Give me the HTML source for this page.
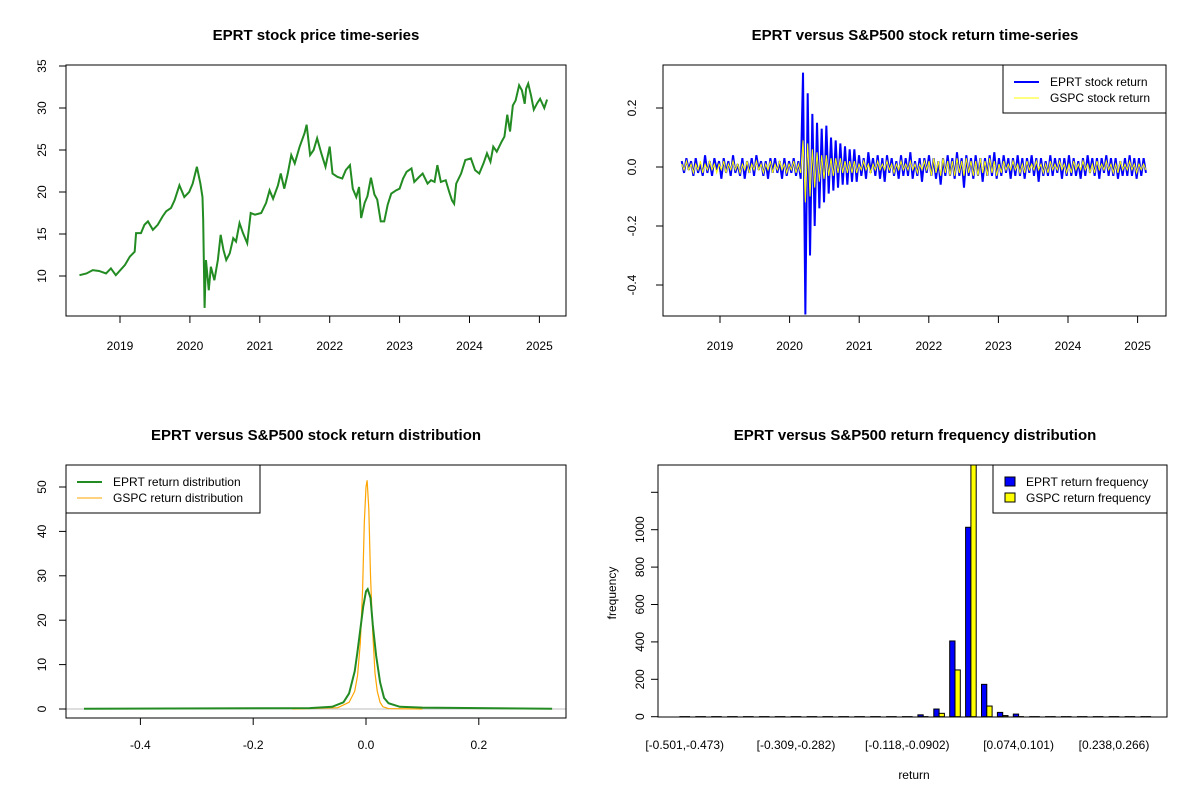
<!DOCTYPE html>
<html><head><meta charset="utf-8"><style>
html,body{margin:0;padding:0;background:#fff;}
svg{display:block;font-family:"Liberation Sans",Arial,sans-serif;}
</style></head>
<body>
<svg id="chart" width="1200" height="800" viewBox="0 0 1200 800" xmlns="http://www.w3.org/2000/svg">
<defs>
<clipPath id="clip1"><rect x="66" y="65" width="500" height="251"/></clipPath>
<clipPath id="clip2"><rect x="663" y="65" width="503" height="251"/></clipPath>
<clipPath id="clip3"><rect x="66" y="465" width="500" height="253"/></clipPath>
<clipPath id="clip4"><rect x="658" y="465" width="509" height="252"/></clipPath>
</defs>
</svg>
<script>
// ---------- Panel 1 data: EPRT price ----------
const priceYears = [2018.42,2018.52,2018.61,2018.70,2018.80,2018.87,2018.94,2019.07,2019.14,2019.21,2019.23,2019.30,2019.35,2019.40,2019.47,2019.54,2019.61,2019.66,2019.73,2019.78,2019.85,2019.92,2019.99,2020.04,2020.10,2020.15,2020.18,2020.19,2020.21,2020.23,2020.27,2020.30,2020.35,2020.40,2020.44,2020.48,2020.52,2020.57,2020.62,2020.66,2020.71,2020.76,2020.82,2020.87,2020.93,2021.02,2021.09,2021.14,2021.19,2021.26,2021.30,2021.35,2021.40,2021.45,2021.50,2021.57,2021.64,2021.67,2021.72,2021.77,2021.82,2021.88,2021.94,2022.00,2022.04,2022.11,2022.18,2022.23,2022.29,2022.33,2022.38,2022.42,2022.45,2022.50,2022.54,2022.59,2022.64,2022.68,2022.73,2022.78,2022.83,2022.88,2022.95,2023.00,2023.05,2023.10,2023.17,2023.21,2023.28,2023.33,2023.40,2023.45,2023.50,2023.54,2023.59,2023.66,2023.71,2023.75,2023.78,2023.81,2023.88,2023.94,2024.02,2024.08,2024.14,2024.20,2024.25,2024.30,2024.34,2024.39,2024.46,2024.50,2024.54,2024.58,2024.62,2024.66,2024.71,2024.75,2024.79,2024.81,2024.84,2024.88,2024.92,2024.97,2025.01,2025.07,2025.11];
const prices = [10.1,10.3,10.7,10.6,10.3,10.9,10.1,11.3,12.3,12.9,15.1,15.1,16.1,16.5,15.5,16.1,17.1,17.7,18.1,19.0,20.8,19.4,20.0,21.0,23.0,21.0,19.4,16.7,6.2,11.9,8.3,11.1,9.5,11.9,14.9,13.1,11.9,12.7,14.5,14.1,16.3,15.1,13.9,17.5,17.3,17.5,18.7,20.2,19.2,20.8,22.2,20.4,22.2,24.4,23.4,25.4,27.0,28.0,24.4,25.0,26.4,24.6,23.0,25.4,22.2,21.8,21.6,22.6,23.2,20.4,19.4,20.6,16.9,18.7,19.5,21.7,19.7,19.1,16.5,16.5,18.5,19.8,20.2,20.4,21.6,22.4,22.8,21.2,21.8,22.2,21.0,21.4,21.2,23.2,21.2,21.4,20.0,19.0,18.6,21.0,22.2,23.8,24.0,22.6,22.2,23.4,24.6,23.6,25.4,24.8,26.0,26.6,29.2,27.2,30.3,30.9,32.7,32.1,30.5,32.3,32.9,31.5,29.8,30.6,31.1,30.0,31.0];
const priceTicks = [10,15,20,25,30,35];
const yearTicks = [2019,2020,2021,2022,2023,2024,2025];

// ---------- Panel 2 data: returns (percent) ----------
const retStart = 2018.45, retEnd = 2025.12;
const eprtRetPct = [2,-2,3,-1,2,-3,3,-2,1,-3,4,-2,2,-3,3,-1,2,-4,3,-2,2,-3,4,-2,1,-3,3,-4,2,-2,3,-3,4,-1,2,-3,2,-4,3,-2,3,-2,2,-4,3,-3,2,-2,3,-3,2,-4,
32,-50,25,-30,18,-20,15,-14,13,-12,14,-9,10,-8,9,-7,8,-6,7,-6,6,-5,6,-5,
4,-3,3,-4,5,-2,3,-3,4,-4,3,-5,4,-2,3,-3,2,-4,4,-3,3,-3,5,-4,2,-3,3,-5,3,-2,4,-3,3,-4,2,-6,3,-3,4,-3,
3,-4,5,-3,3,-7,4,-3,3,-4,4,-3,3,-5,3,-3,4,-3,5,-4,3,-3,4,-2,3,-4,3,-3,4,-3,3,-4,3,-2,4,-3,3,-5,3,-3,
2,-3,4,-3,3,-2,3,-4,3,-3,4,-3,3,-3,2,-4,3,-3,4,-2,3,-3,3,-4,3,-2,4,-3,3,-3,3,-4,2,-3,3,-3,4,-3,3,-4,3,-3,3,-2];
const gspcRetPct = [1,-1,2,-1,1,-2,1,-1,2,-2,1,-1,2,-1,1,-2,1,-1,2,-2,1,-1,2,-1,1,-2,1,-1,2,-2,1,-1,2,-1,1,-2,1,-1,2,-2,1,-1,2,-1,1,-2,1,-1,2,-2,1,-2,
9,-12,8,-10,6,-7,5,-5,4,-4,4,-3,3,-3,3,-2,3,-2,2,-2,2,-2,2,-2,
1,-1,2,-1,1,-2,1,-1,2,-1,1,-1,2,-1,1,-2,1,-1,2,-1,1,-1,2,-1,1,-2,1,-1,2,-1,
2,-3,3,-2,2,-3,3,-2,2,-3,2,-3,3,-2,2,-3,3,-2,2,-3,2,-3,3,-2,2,-3,3,-2,2,-3,
1,-2,2,-1,1,-1,2,-1,1,-2,1,-2,2,-1,1,-1,2,-1,1,-2,1,-2,2,-1,1,-1,2,-1,1,-2,1,-2,2,-1,1,-1,2,-1,1,-2,1,-2,2,-1,1,-1,2,-1,1,-2,1,-2,2,-1,1,-1,2,-1,1,-2,1,-1,1,-1];
const retTicks = [0.2,0.0,-0.2,-0.4];
const retTickLabels = ["0.2","0.0","-0.2","-0.4"];

// ---------- Panel 3 data: densities ----------
const eprtDensX = [-0.5,-0.1,-0.06,-0.04,-0.03,-0.02,-0.015,-0.01,-0.005,0,0.003,0.008,0.012,0.018,0.025,0.032,0.04,0.06,0.1,0.33];
const eprtDensY = [0.05,0.2,0.5,1.5,3.5,8.5,13,18,23,26.5,27,25,19,12,6,2.5,1.3,0.5,0.3,0.05];
const gspcDensX = [-0.13,-0.05,-0.03,-0.02,-0.015,-0.01,-0.006,-0.003,0,0.002,0.005,0.008,0.012,0.016,0.02,0.025,0.03,0.04,0.1];
const gspcDensY = [0,0.3,1.5,4,7.5,15,27,42,50,51.5,45,30,17,8,4,1.5,0.5,0.1,0];
const densXTicks = [-0.4,-0.2,0.0,0.2];
const densXLabels = ["-0.4","-0.2","0.0","0.2"];
const densYTicks = [0,10,20,30,40,50];

// ---------- Panel 4 data: histogram ----------
const binLabels = ["[-0.501,-0.473)","","","","","","","[-0.309,-0.282)","","","","","","","[-0.118,-0.0902)","","","","","","","[0.074,0.101)","","","","","","[0.238,0.266)","",""];
const eprtFreq = [1,0,0,0,0,0,0,0,0,0,0,4,0,0,3,10,41,405,1013,173,23,14,5,0,0,0,0,0,0,1];
const gspcFreq = [0,0,0,0,0,0,0,0,0,0,0,0,0,0,1,2,18,250,1420,57,6,5,2,0,0,0,0,0,0,0];
const freqTicks = [0,200,400,600,800,1000,1200];
const freqLabels = ["0","200","400","600","800","1000",""];

const NS = "http://www.w3.org/2000/svg";
const svg = document.getElementById("chart");
function mk(tag, attrs, parent){
  const e = document.createElementNS(NS, tag);
  for (const k in attrs) e.setAttribute(k, attrs[k]);
  (parent||svg).appendChild(e);
  return e;
}
function txt(s, x, y, size, opts){
  opts = opts||{};
  const e = mk("text", {x:x, y:y, "font-size":size, "text-anchor":opts.anchor||"middle", fill:"#000"});
  if (opts.bold) e.setAttribute("font-weight","bold");
  if (opts.rot) e.setAttribute("transform","rotate(-90 "+x+" "+y+")");
  e.textContent = s;
  return e;
}
function frame(x,y,w,h,name){
  const r = mk("rect",{x:x,y:y,width:w,height:h,fill:"none",stroke:"#000","stroke-width":1});
  
  
}
function tickX(x, y0, label, ly){
  mk("line",{x1:x,y1:y0,x2:x,y2:y0+7,stroke:"#000"});
  if (label!=="") { const t = txt(label, x, ly, 12);
    
     }
}
function tickY(y, x0, label, lx){
  mk("line",{x1:x0,y1:y,x2:x0-7,y2:y,stroke:"#000"});
  if (label!=="") { const t = txt(label, lx, y, 12, {rot:true});
    
     }
}

// ===== Panel 1 =====
const x1 = yr => 120 + (yr-2019)*69.9;
const y1 = p => 276 - (p-10)*8.4;
let t = txt("EPRT stock price time-series", 316, 40, 15, {bold:true});


frame(66,65,500,251,'price-plot-frame');
yearTicks.forEach(yr => tickX(x1(yr), 316, String(yr), 350));
mk("line",{x1:66,y1:y1(priceTicks[0]),x2:66,y2:y1(priceTicks[priceTicks.length-1]),stroke:"#000"});
mk("line",{x1:x1(yearTicks[0]),y1:316,x2:x1(yearTicks[yearTicks.length-1]),y2:316,stroke:"#000"});
priceTicks.forEach(p => tickY(y1(p), 66, String(p), 46));
let pl = mk("polyline",{points:priceYears.map((d,i)=>x1(d)+","+y1(prices[i])).join(" "),fill:"none",stroke:"#228B22","stroke-width":2,"clip-path":"url(#clip1)"});



// ===== Panel 2 =====
const x2 = yr => 720 + (yr-2019)*69.6;
const y2 = r => 167 - r*295;
const retDate = (i,n) => retStart + i*(retEnd-retStart)/(n-1);
t = txt("EPRT versus S&P500 stock return time-series", 915, 40, 15, {bold:true});


yearTicks.forEach(yr => tickX(x2(yr), 316, String(yr), 350));
mk("line",{x1:x2(yearTicks[0]),y1:316,x2:x2(yearTicks[yearTicks.length-1]),y2:316,stroke:"#000"});
mk("line",{x1:663,y1:y2(0.2),x2:663,y2:y2(-0.4),stroke:"#000"});
retTicks.forEach((r,i) => tickY(y2(r), 663, retTickLabels[i], 636));
pl = mk("polyline",{points:eprtRetPct.map((v,i)=>x2(retDate(i,eprtRetPct.length))+","+y2(v/100)).join(" "),fill:"none",stroke:"#0000FF","stroke-width":2,"clip-path":"url(#clip2)"});


pl = mk("polyline",{points:gspcRetPct.map((v,i)=>x2(retDate(i,gspcRetPct.length))+","+y2(v/100)).join(" "),fill:"none",stroke:"#FFFF00","stroke-width":1,"clip-path":"url(#clip2)"});


frame(663,65,503,251,'return-plot-frame');
let lg = mk("g",{});


mk("rect",{x:1003,y:65,width:163,height:48,fill:"#fff",stroke:"#000"},lg);
mk("line",{x1:1014,y1:82,x2:1039,y2:82,stroke:"#0000FF","stroke-width":2},lg);
mk("line",{x1:1014,y1:98,x2:1039,y2:98,stroke:"#FFFF00","stroke-width":1},lg);
t = mk("text",{x:1050,y:86,"font-size":12},lg); t.textContent="EPRT stock return";


t = mk("text",{x:1050,y:102,"font-size":12},lg); t.textContent="GSPC stock return";



// ===== Panel 3 =====
const x3 = v => 366 + v*564;
const y3 = d => 709 - d*4.44;
t = txt("EPRT versus S&P500 stock return distribution", 316, 440, 15, {bold:true});


densXTicks.forEach((v,i) => tickX(x3(v), 718, densXLabels[i], 749));
mk("line",{x1:x3(densXTicks[0]),y1:718,x2:x3(densXTicks[densXTicks.length-1]),y2:718,stroke:"#000"});
mk("line",{x1:66,y1:y3(0),x2:66,y2:y3(50),stroke:"#000"});
densYTicks.forEach(d => tickY(y3(d), 66, String(d), 46));
let ab = mk("line",{x1:66,y1:y3(0),x2:566,y2:y3(0),stroke:"#BEBEBE","stroke-width":1});


pl = mk("polyline",{points:gspcDensX.map((v,i)=>x3(v)+","+y3(gspcDensY[i])).join(" "),fill:"none",stroke:"#FFA500","stroke-width":1.2,"clip-path":"url(#clip3)"});


pl = mk("polyline",{points:eprtDensX.map((v,i)=>x3(v)+","+y3(eprtDensY[i])).join(" "),fill:"none",stroke:"#228B22","stroke-width":2,"clip-path":"url(#clip3)"});


frame(66,465,500,253,'distribution-plot-frame');
lg = mk("g",{});


mk("rect",{x:66,y:465,width:194,height:48,fill:"#fff",stroke:"#000"},lg);
mk("line",{x1:77,y1:482,x2:102,y2:482,stroke:"#228B22","stroke-width":2},lg);
mk("line",{x1:77,y1:498,x2:102,y2:498,stroke:"#FFA500","stroke-width":1},lg);
t = mk("text",{x:113,y:486,"font-size":12},lg); t.textContent="EPRT return distribution";


t = mk("text",{x:113,y:502,"font-size":12},lg); t.textContent="GSPC return distribution";



// ===== Panel 4 =====
const gx = k => 684.7 + k*15.9;   // group centre
const bw = 5.3;
const y4 = f => 716.7 - f*0.187;
t = txt("EPRT versus S&P500 return frequency distribution", 915, 440, 15, {bold:true});


mk("line",{x1:658,y1:y4(0),x2:658,y2:y4(1200),stroke:"#000"});
freqTicks.forEach((f,i) => tickY(y4(f), 658, freqLabels[i], 644));
binLabels.forEach((s,k) => { if (s!=="") { const tl = txt(s, gx(k), 749, 12);
  
   }});
t = txt("frequency", 616, 593, 12, {rot:true});


t = txt("return", 914, 779, 12);


const bars = mk("g",{"clip-path":"url(#clip4)"});
function bar(x, f, color, name){
  const top = y4(f), h = y4(0)-top;
  if (h < 1) {
    const l = mk("line",{x1:x,y1:y4(0),x2:x+bw,y2:y4(0),stroke:"#000","stroke-width":1.2},bars);
    
    
  } else {
    const r = mk("rect",{x:x,y:top,width:bw,height:h,fill:color,stroke:"#000","stroke-width":1},bars);
    
    
  }
}
eprtFreq.forEach((f,k) => bar(gx(k)-bw, f, "#0000FF", "eprt-frequency-bar"));
gspcFreq.forEach((f,k) => bar(gx(k), f, "#FFFF00", "gspc-frequency-bar"));
frame(658,465,509,252,'frequency-plot-frame');
lg = mk("g",{});


mk("rect",{x:993,y:465,width:174,height:48,fill:"#fff",stroke:"#000"},lg);
mk("rect",{x:1005,y:477,width:10,height:9,fill:"#0000FF",stroke:"#000"},lg);
mk("rect",{x:1005,y:493,width:10,height:9,fill:"#FFFF00",stroke:"#000"},lg);
t = mk("text",{x:1026,y:486,"font-size":12},lg); t.textContent="EPRT return frequency";


t = mk("text",{x:1026,y:502,"font-size":12},lg); t.textContent="GSPC return frequency";


</script>
</body></html>
